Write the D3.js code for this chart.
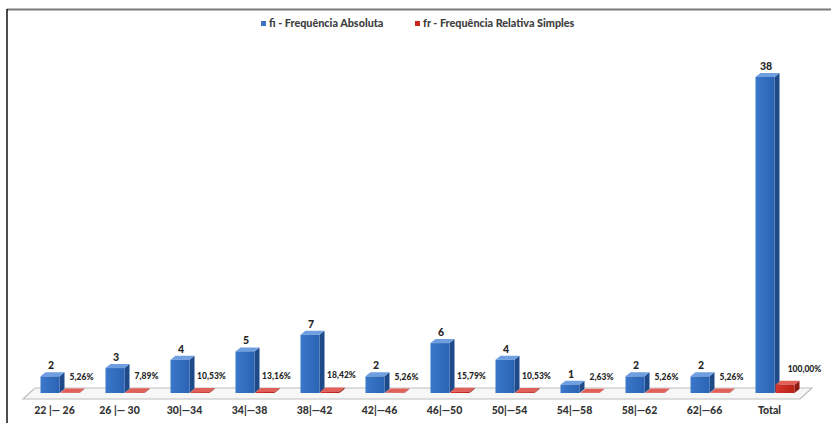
<!DOCTYPE html>
<html>
<head>
<meta charset="utf-8">
<script src="https://cdn.jsdelivr.net/npm/d3@7"></script>
<style>
  html, body { margin: 0; padding: 0; background: #fff; }
  svg { display: block; }
  text { font-family: Lato, "Open Sans", sans-serif; font-weight: 900; }
</style>
</head>
<body>
<svg id="chart" width="831" height="423"></svg>
<script>
// Class intervals (age groups) and the total column
const categories = ["22 |— 26", "26 |— 30", "30|—34", "34|—38", "38|—42", "42|—46",
                    "46|—50", "50|—54", "54|—58", "58|—62", "62|—66", "Total"];
// fi - absolute frequency
const fiValues = [2, 3, 4, 5, 7, 2, 6, 4, 1, 2, 2, 38];
// fr - simple relative frequency (as a fraction, drawn on the same axis)
const frValues = [0.0526, 0.0789, 0.1053, 0.1316, 0.1842, 0.0526,
                  0.1579, 0.1053, 0.0263, 0.0526, 0.0526, 1.0];
const frLabels = ["5,26%", "7,89%", "10,53%", "13,16%", "18,42%", "5,26%",
                  "15,79%", "10,53%", "2,63%", "5,26%", "5,26%", "100,00%"];
const seriesNames = ["fi - Frequência Absoluta", "fr - Frequência Relativa Simples"];

const svg = d3.select("#chart");
const W = 831, H = 423;

// Frame lines
svg.append("line").attr("x1", 7).attr("x2", W).attr("y1", 9.5).attr("y2", 9.5)
  .attr("stroke", "#7a7a7a").attr("stroke-width", 2);
svg.append("line").attr("x1", 7).attr("x2", 7).attr("y1", 9).attr("y2", H)
  .attr("stroke", "#111").attr("stroke-width", 1.5);

const x = d3.scaleBand().domain(categories).range([20, 800]);
const y = d3.scaleLinear().domain([0, 38]).range([393, 77]);

// 3D projection offsets
const dx = 5, dy = -4, bw = 19;

const defs = svg.append("defs");
function grad(id, c1, c2) {
  const g = defs.append("linearGradient").attr("id", id)
    .attr("x1", "0%").attr("x2", "100%").attr("y1", "0%").attr("y2", "0%");
  g.append("stop").attr("offset", "0%").attr("stop-color", c1);
  g.append("stop").attr("offset", "100%").attr("stop-color", c2);
}
grad("blueFront", "#3a78c9", "#2b63b3");
grad("redFront", "#d6352c", "#b82219");

// Floor
const fl = { y0: 388, y1: 399 };
svg.append("path")
  .attr("d", `M23,${fl.y1} L35,${fl.y0} L812,${fl.y0} L800,${fl.y1} Z`)
  .attr("fill", "#f7f7f7").attr("stroke", "#bdbdbd").attr("stroke-width", 1.2);

const styles = [
  { front: "url(#blueFront)", side: "#1e4a8a", top: "#6f9fe0", off: -12 },
  { front: "url(#redFront)", side: "#8e1a13", top: "#e2605a", off: 8 }
];

function drawBar(g, x0, v, st) {
  const y0 = y(0), yt = y(v);
  // side face
  g.append("path")
    .attr("d", `M${x0 + bw},${y0} L${x0 + bw + dx},${y0 + dy} L${x0 + bw + dx},${yt + dy} L${x0 + bw},${yt} Z`)
    .attr("fill", st.side);
  // top face
  g.append("path")
    .attr("d", `M${x0},${yt} L${x0 + dx},${yt + dy} L${x0 + bw + dx},${yt + dy} L${x0 + bw},${yt} Z`)
    .attr("fill", st.top);
  // front face
  g.append("rect").attr("x", x0).attr("y", yt).attr("width", bw).attr("height", Math.max(0, y0 - yt))
    .attr("fill", st.front);
}

const groups = svg.append("g").selectAll("g").data(categories).join("g");
groups.each(function (c, i) {
  const g = d3.select(this);
  const cx = x(c) + x.bandwidth() / 2;
  drawBar(g, cx + styles[0].off, fiValues[i], styles[0]);
  drawBar(g, cx + styles[1].off, frValues[i], styles[1]);
  // fi value label
  g.append("text")
    .attr("x", cx + styles[0].off + bw / 2 + 1)
    .attr("y", y(fiValues[i]) - 7)
    .attr("text-anchor", "middle").attr("font-size", 10.5).attr("fill", "#262626")
    .text(fiValues[i]);
  // fr value label
  g.append("text")
    .attr("x", cx + styles[1].off + 21 + (i === categories.length - 1 ? 8 : 0))
    .attr("y", y(frValues[i]) - 13)
    .attr("text-anchor", "middle").attr("font-size", 8.5).attr("fill", "#262626")
    .text(frLabels[i]);
});

// Category axis labels
svg.append("g").selectAll("text").data(categories).join("text")
  .attr("x", d => x(d) + x.bandwidth() / 2 + 2)
  .attr("y", 414)
  .attr("text-anchor", "middle").attr("font-size", 10.5).attr("fill", "#333")
  .text(d => d);

// Legend
const legend = svg.append("g");
const legendItems = [
  { name: seriesNames[0], color: "#3a73c4", x: 261 },
  { name: seriesNames[1], color: "#c9271f", x: 415 }
];
legendItems.forEach(it => {
  legend.append("rect").attr("x", it.x).attr("y", 21).attr("width", 5).attr("height", 5).attr("fill", it.color);
  legend.append("text").attr("x", it.x + 8).attr("y", 27)
    .attr("font-size", 10.8).attr("fill", "#404040").text(it.name);
});
</script>
</body>
</html>
